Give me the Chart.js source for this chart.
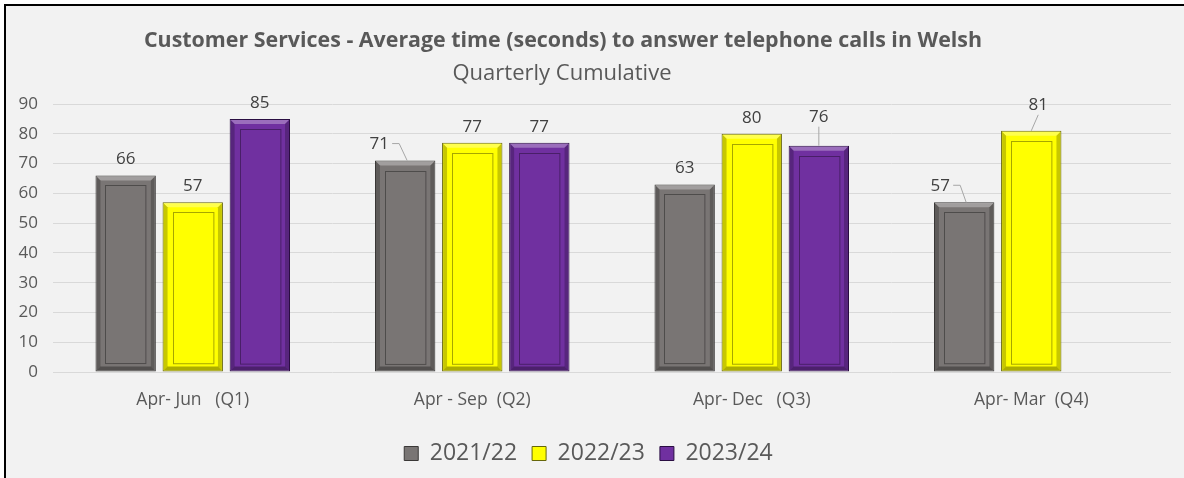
<!DOCTYPE html>
<html>
<head>
<meta charset="utf-8">
<script src="https://cdn.jsdelivr.net/npm/chart.js@4"></script>
<style>
  html, body { margin: 0; padding: 0; background: #ffffff; }
  #frame {
    position: absolute; left: 4px; top: 4px;
    width: 1178px; height: 472px;
    border-left: 2px solid #000; border-top: 2px solid #000;
    background: #f2f2f2;
  }
  canvas { display: block; }
</style>
</head>
<body>
<div id="frame"><canvas id="chart" width="1178" height="472"></canvas></div>
<script>
// Chart data
const categories = ['Apr- Jun   (Q1)', 'Apr - Sep  (Q2)', 'Apr- Dec   (Q3)', 'Apr- Mar  (Q4)'];
const seriesNames = ['2021/22', '2022/23', '2023/24'];
const values2122 = [66, 71, 63, 57];
const values2223 = [57, 77, 80, 81];
const values2324 = [85, 77, 76, null];
const yMin = 0, yMax = 90, yStep = 10;

// Label nudges (dataset-index: [dx, dy]) where the original uses leader lines
const labelNudge = { '0-1': [-26, 0], '0-3': [-24, 0], '2-2': [0, -13], '1-3': [7, -10] };

const fontFamily = '"Open Sans", Lato, sans-serif';
const textColor = '#595959';

// Draws title and subtitle
const titlePlugin = {
    id: 'titles',
    beforeDraw(chart) {
        const ctx = chart.ctx;
        ctx.save();
        ctx.fillStyle = textColor;
        ctx.textAlign = 'center';
        ctx.textBaseline = 'middle';
        ctx.font = 'bold 21.4px ' + fontFamily;
        ctx.fillText('Customer Services - Average time (seconds) to answer telephone calls in Welsh', 557, 35);
        ctx.font = '22px ' + fontFamily;
        ctx.fillText('Quarterly Cumulative', 556, 68);
        ctx.restore();
    }
};

// Bevel look for each bar
const bevelPlugin = {
    id: 'bevel',
    afterDatasetsDraw(chart) {
        const ctx = chart.ctx;
        chart.data.datasets.forEach((ds, di) => {
            chart.getDatasetMeta(di).data.forEach((bar, i) => {
                if (ds.data[i] == null) return;
                const { x, y, base, width } = bar.getProps(['x', 'y', 'base', 'width'], true);
                const l = x - width / 2, r = x + width / 2, t = y, b = base;
                const e = 4;
                ctx.save();
                // top band lighter
                ctx.fillStyle = 'rgba(255,255,255,0.3)';
                ctx.beginPath();
                ctx.moveTo(l + 1, t + 1); ctx.lineTo(r - 1, t + 1); ctx.lineTo(r - 1 - e, t + 1 + e); ctx.lineTo(l + 1 + e, t + 1 + e);
                ctx.closePath(); ctx.fill();
                // side bands darker
                ctx.fillStyle = 'rgba(0,0,0,0.22)';
                ctx.beginPath();
                ctx.moveTo(l + 1, t + 1); ctx.lineTo(l + 1 + e, t + 1 + e); ctx.lineTo(l + 1 + e, b - 1 - e); ctx.lineTo(l + 1, b - 1);
                ctx.closePath(); ctx.fill();
                ctx.beginPath();
                ctx.moveTo(r - 1, t + 1); ctx.lineTo(r - 1 - e, t + 1 + e); ctx.lineTo(r - 1 - e, b - 1 - e); ctx.lineTo(r - 1, b - 1);
                ctx.closePath(); ctx.fill();
                // bottom band darkest
                ctx.fillStyle = 'rgba(0,0,0,0.32)';
                ctx.beginPath();
                ctx.moveTo(l + 1, b - 1); ctx.lineTo(l + 1 + e, b - 1 - e); ctx.lineTo(r - 1 - e, b - 1 - e); ctx.lineTo(r - 1, b - 1);
                ctx.closePath(); ctx.fill();
                // inner line
                ctx.strokeStyle = 'rgba(0,0,0,0.35)';
                ctx.lineWidth = 1;
                ctx.strokeRect(Math.round(l + 10) + 0.5, Math.round(t + 10) + 0.5, width - 20, b - t - 18);
                ctx.restore();
            });
        });
    }
};

// Value labels above bars, with leader lines where nudged
const valueLabelPlugin = {
    id: 'valueLabels',
    afterDatasetsDraw(chart) {
        const ctx = chart.ctx;
        ctx.save();
        ctx.font = '17px ' + fontFamily;
        ctx.textAlign = 'center';
        ctx.textBaseline = 'middle';
        chart.data.datasets.forEach((ds, di) => {
            chart.getDatasetMeta(di).data.forEach((bar, i) => {
                const v = ds.data[i];
                if (v == null) return;
                const nudge = labelNudge[di + '-' + i] || [0, 0];
                const lx = bar.x + nudge[0];
                const ly = bar.y - 16 + nudge[1];
                if (nudge[0] !== 0 || nudge[1] !== 0) {
                    ctx.strokeStyle = '#a6a6a6';
                    ctx.lineWidth = 1;
                    ctx.beginPath();
                    if (nudge[0] < 0) {
                        ctx.moveTo(lx + 13, ly - 1);
                        ctx.lineTo(lx + 20, ly - 1);
                        ctx.lineTo(bar.x + 2, bar.y);
                    } else {
                        ctx.moveTo(lx, ly + 10);
                        ctx.lineTo(bar.x, bar.y);
                    }
                    ctx.stroke();
                }
                ctx.fillStyle = '#404040';
                ctx.fillText(String(v), lx, ly);
            });
        });
        ctx.restore();
    }
};

const ctx = document.getElementById('chart').getContext('2d');
new Chart(ctx, {
    type: 'bar',
    data: {
        labels: categories,
        datasets: [
            { label: seriesNames[0], data: values2122, backgroundColor: '#797574', borderColor: '#3a3837' },
            { label: seriesNames[1], data: values2223, backgroundColor: '#ffff00', borderColor: '#66660a' },
            { label: seriesNames[2], data: values2324, backgroundColor: '#7030a0', borderColor: '#2a0e42' }
        ]
    },
    options: {
        responsive: false,
        animation: false,
        layout: { padding: { top: 98, left: 0, right: 13, bottom: 3 } },
        datasets: {
            bar: { barPercentage: 0.9, categoryPercentage: 0.72, borderWidth: 1, borderSkipped: false }
        },
        scales: {
            x: {
                grid: { display: false },
                border: { display: false },
                ticks: { color: textColor, font: { family: fontFamily, size: 17.5 }, padding: 10, maxRotation: 0 },
                afterFit(scale) { scale.height = 55; }
            },
            y: {
                min: yMin, max: yMax,
                grid: { color: '#d9d9d9', drawTicks: false },
                border: { display: false },
                ticks: { stepSize: yStep, color: textColor, font: { family: fontFamily, size: 17 }, padding: 15 },
                afterFit(scale) { scale.width = 47; }
            }
        },
        plugins: {
            title: { display: false },
            tooltip: { enabled: false },
            legend: {
                position: 'bottom',
                labels: {
                    color: textColor,
                    font: { family: fontFamily, size: 23 },
                    boxWidth: 14, boxHeight: 14,
                    padding: 15,
                    generateLabels(chart) {
                        return chart.data.datasets.map((ds, i) => ({
                            text: ds.label,
                            fillStyle: ds.backgroundColor,
                            strokeStyle: ds.borderColor,
                            lineWidth: 1,
                            fontColor: textColor,
                            datasetIndex: i
                        }));
                    }
                }
            }
        }
    },
    plugins: [titlePlugin, bevelPlugin, valueLabelPlugin]
});
</script>
</body>
</html>
